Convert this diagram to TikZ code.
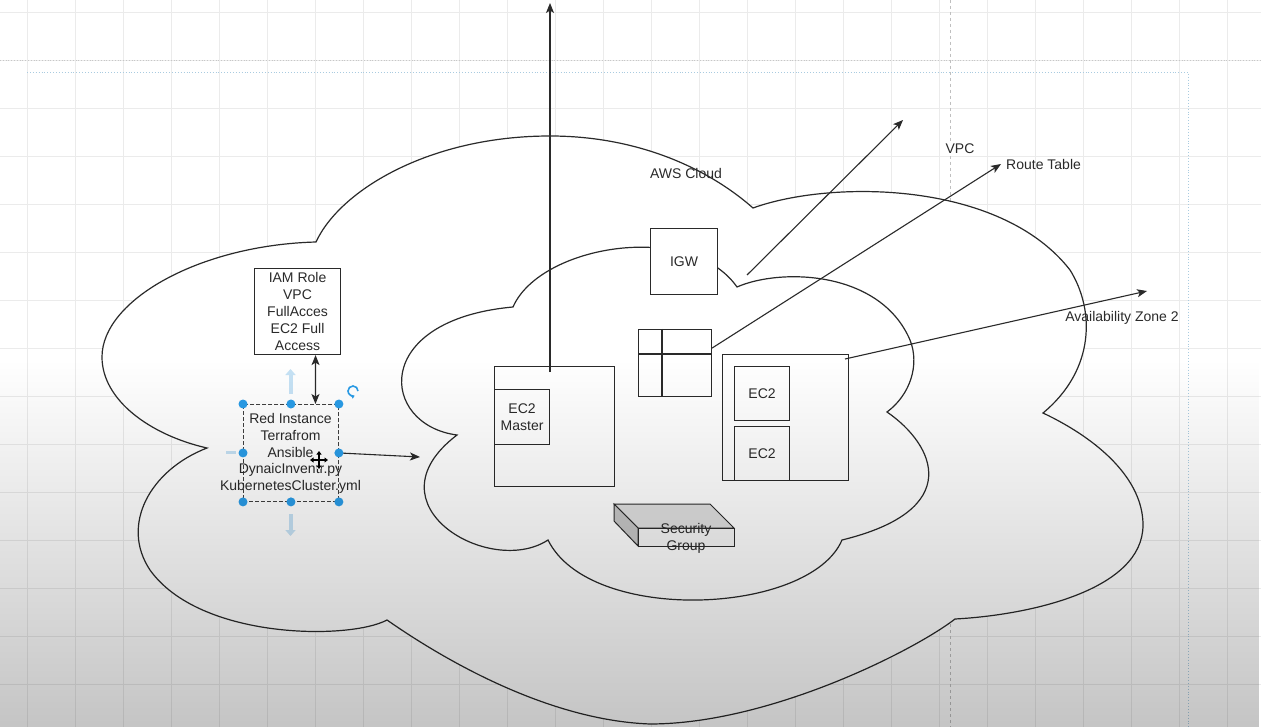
\documentclass[tikz,border=0pt]{standalone}
\usepackage{fontspec}
\setmainfont{Liberation Sans}
\usetikzlibrary{arrows.meta,fadings,calc}
\definecolor{hblue}{HTML}{2A9DE8}
\definecolor{hlight}{HTML}{C6E2F5}
\definecolor{pageblue}{HTML}{A9CBE0}
\definecolor{ink}{HTML}{2A2A2A}
\tikzfading[name=vfade, top color=transparent!100, bottom color=transparent!77]
\begin{document}
\begin{tikzpicture}[x=1pt,y=-1pt, font=\fontsize{14}{16.8}\selectfont,
  box/.style={draw=ink, line width=1.1pt, rectangle, fill=white, inner sep=0pt, text=ink, align=center, anchor=north west},
  conn/.style={draw=ink, line width=1.1pt, -{Stealth[length=10pt,width=8pt,inset=2.5pt]}},
  lbl/.style={text=ink, inner sep=0pt, align=center},
  handle/.style={circle, fill=hblue, minimum size=9pt, inner sep=0pt},
  cloudline/.style={draw=ink, line width=1.2pt, fill=white},
  gridline/.style={draw=black!8, line width=0.8pt}]
% background
\fill[white] (0,0) rectangle (1261,727);
\useasboundingbox (0,0) rectangle (1261,727);
% grid
\foreach \gx in {27,75,...,1261} {\draw[gridline] (\gx,0) -- (\gx,727);}
\foreach \gy in {12,60,...,727} {\draw[gridline] (0,\gy) -- (1261,\gy);}
\draw[black!22, line width=0.8pt, dotted] (0,60) -- (1261,60);
\draw[pageblue, line width=0.9pt, dotted] (27,72) -- (1188,72) -- (1188,727);
\draw[black!25, line width=0.7pt, dashed] (950,0) -- (950,727);
% outer cloud (AWS Cloud)
\path[cloudline] (316,242) .. controls (340,190) and (430,136) .. (550,136)
 .. controls (640,136) and (710,170) .. (753,208)
 .. controls (830,180) and (1000,180) .. (1070,270)
 .. controls (1095,310) and (1095,370) .. (1043,413)
 .. controls (1100,440) and (1143,480) .. (1143,525)
 .. controls (1143,590) and (1030,615) .. (955,619)
 .. controls (915,650) and (770,724) .. (650,724)
 .. controls (540,720) and (430,650) .. (387,620)
 .. controls (350,640) and (200,640) .. (150,570)
 .. controls (120,525) and (150,470) .. (207,448)
 .. controls (150,435) and (102,400) .. (102,357)
 .. controls (102,300) and (200,245) .. (316,242) -- cycle;
% inner cloud (VPC)
\path[cloudline] (513,307) .. controls (540,245) and (690,220) .. (737,287)
 .. controls (780,268) and (880,270) .. (910,340)
 .. controls (920,365) and (910,395) .. (887,412)
 .. controls (935,445) and (965,510) .. (842,540)
 .. controls (810,615) and (590,625) .. (548,540)
 .. controls (490,578) and (365,505) .. (457,435)
 .. controls (380,425) and (370,320) .. (513,307) -- cycle;
% labels
\node[lbl] (aws) at (686,173) {AWS Cloud};
\node[lbl, fill=white, inner sep=1pt] (vpc) at (960,149) {VPC};
\node[lbl, anchor=west] (rt) at (1006,164) {Route Table};
\node[lbl] (az2) at (1122,318) {Availability Zone 2};
% boxes
\node[box, minimum width=86pt, minimum height=86pt] (iam) at (254,268) {IAM Role\\VPC\\FullAcces\\EC2 Full\\Access};
\node[box, minimum width=67pt, minimum height=66pt] (igw) at (650,228) {IGW};
\node[box, minimum width=73pt, minimum height=67pt] (tbl) at (638,329) {};
\draw[draw=ink, line width=1.1pt] (tbl.west |- 0,354) -- (tbl.east |- 0,354);
\draw[draw=ink, line width=1.1pt] (662,0 |- tbl.north) -- (662,0 |- tbl.south);
\node[box, minimum width=120pt, minimum height=120pt] (mbox) at (494,366) {};
\node[box, minimum width=55pt, minimum height=55pt] (master) at (494,389) {EC2\\Master};
\node[box, minimum width=126pt, minimum height=126pt] (azbox) at (722,354) {};
\node[box, minimum width=55pt, minimum height=54pt] (ecA) at (734,366) {EC2};
\node[box, minimum width=55pt, minimum height=54pt] (ecB) at (734,426) {EC2};
% security group (3D box)
\filldraw[draw=ink, line width=1pt, fill=black!12] (614,504) -- (710,504) -- (734,528) -- (638,528) -- cycle;
\filldraw[draw=ink, line width=1pt, fill=black!22] (614,504) -- (638,528) -- (638,546) -- (614,521) -- cycle;
\filldraw[draw=ink, line width=1pt, fill=black!3] (638,528) rectangle (734,546);
\node[lbl] (sg) at (686,538.5) {Security\\Group};
% red instance (selected)
\node[draw=black!75, dash pattern=on 4pt off 2pt, line width=0.9pt, minimum width=95pt, minimum height=97pt, anchor=north west, inner sep=0pt] (red) at (243,404) {};
\node[lbl] (redtxt) at (290.5,453.5) {Red Instance\\Terrafrom\\Ansible\\DynaicInventr.py\\KubernetesCluster.yml};
% connectors
\coordinate (mA) at (550,372);
\coordinate (mB) at (550,3);
\draw[conn] (mA) -- (mB);
\coordinate (gA) at (747,275);
\coordinate (gB) at (903,120);
\draw[conn] (gA) -- (gB);
\draw[conn] ([yshift=15pt]tbl.east) -- ([xshift=-5pt]rt.west);
\coordinate (zA) at (845,359);
\coordinate (zB) at (1147,291);
\draw[conn] (zA) -- (zB);
\draw[conn, {Stealth[length=10pt,width=8pt,inset=2.5pt]}-{Stealth[length=10pt,width=8pt,inset=2.5pt]}] ([xshift=18pt]iam.south) -- ([xshift=24.5pt]red.north);
\coordinate (cin) at (420,457);
\draw[conn] (red.east) -- (cin);
% hover arrows
\draw[hlight, line width=4pt, -{Triangle[length=6pt,width=10pt]}] (290.5,394) -- (290.5,369);
\draw[hlight, line width=4pt, -{Triangle[length=6pt,width=10pt]}] (290.5,514) -- (290.5,536);
\draw[hlight, line width=3pt] (226,452.5) -- (236,452.5);
% selection handles
\foreach \a in {north west,north,north east,west,east,south west,south,south east}
  {\node[handle] at (red.\a) {};}
% rotation handle
\draw[hblue, line width=1.6pt, -{Triangle[length=3pt,width=4pt]}] (358,391) arc[start angle=0, end angle=290, radius=5pt];
% move cursor
\draw[white, line width=3.2pt] (310,460) -- (328,460) (319,451) -- (319,469);
\draw[black, line width=1.3pt, {Triangle[length=3.5pt,width=5pt]}-{Triangle[length=3.5pt,width=5pt]}] (310,460) -- (328,460);
\draw[black, line width=1.3pt, {Triangle[length=3.5pt,width=5pt]}-{Triangle[length=3.5pt,width=5pt]}] (319,451) -- (319,469);
% video vignette
\fill[black, path fading=vfade] (0,360) rectangle (1261,727);
\end{tikzpicture}
\end{document}
